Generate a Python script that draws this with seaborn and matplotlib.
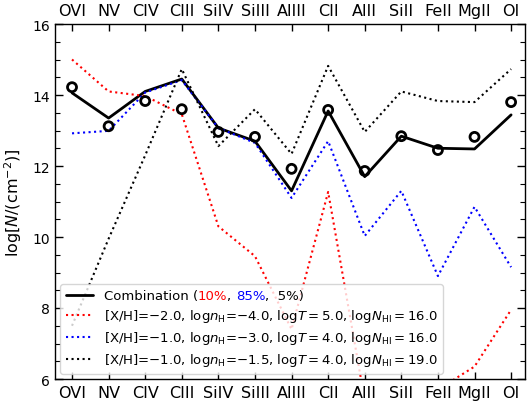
import numpy as np
import pandas as pd
import matplotlib
matplotlib.use("Agg")
import matplotlib.pyplot as plt
import seaborn as sns
from matplotlib.ticker import MultipleLocator
from matplotlib.lines import Line2D

ions = ['OVI', 'NV', 'CIV', 'CIII', 'SiIV', 'SiIII', 'AlIII', 'CII', 'AlII', 'SiII', 'FeII', 'MgII', 'OI']
observed = [14.22, 13.12, 13.83, 13.60, 12.96, 12.82, 11.92, 13.58, 11.86, 12.84, 12.45, 12.82, 13.80]
combination = [14.06, 13.35, 14.10, 14.45, 13.07, 12.70, 11.30, 13.55, 11.70, 12.84, 12.50, 12.48, 13.44]
model_red = [15.00, 14.10, 13.97, 13.46, 10.30, 9.46, 7.40, 11.27, 5.40, 5.90, 5.70, 6.35, 7.95]
model_blue = [12.92, 12.99, 14.07, 14.42, 13.07, 12.65, 11.10, 12.70, 10.03, 11.30, 8.90, 10.85, 9.15]
model_black = [7.50, 9.95, 12.30, 14.73, 12.56, 13.60, 12.34, 14.82, 12.96, 14.10, 13.83, 13.80, 14.73]

labels = [
    'Combination (',
    r'[X/H]=$-$2.0, log$n_{\rm H}$=$-$4.0, log$T=5.0$, log$N_{\rm HI}=16.0$',
    r'[X/H]=$-$1.0, log$n_{\rm H}$=$-$3.0, log$T=4.0$, log$N_{\rm HI}=16.0$',
    r'[X/H]=$-$1.0, log$n_{\rm H}$=$-$1.5, log$T=4.0$, log$N_{\rm HI}=19.0$',
]
pieces = [('10%', 'red'), (', ', 'black'), ('85%', 'blue'), (',  5%)', 'black')]

sns.set_theme(style='ticks')
plt.rcParams.update({
    'font.family': ['DejaVu Sans'],
    'axes.edgecolor': 'black',
    'axes.linewidth': 1.0,
    'xtick.color': 'black', 'ytick.color': 'black',
    'text.color': 'black', 'axes.labelcolor': 'black',
})

pos = np.arange(len(ions))
df = pd.DataFrame({'pos': pos, 'obs': observed, 'comb': combination,
                   'red': model_red, 'blue': model_blue, 'black': model_black})

fig = plt.figure(figsize=(5.27, 4.02), dpi=100)
ax = fig.add_axes([55/527, 1-380/402, (525-55)/527, (380-25)/402])

sns.lineplot(data=df, x='pos', y='comb', color='black', lw=2.0, sort=False, ax=ax)
sns.lineplot(data=df, x='pos', y='red', color='red', lw=1.5, ls=':', sort=False, ax=ax)
sns.lineplot(data=df, x='pos', y='blue', color='blue', lw=1.5, ls=':', sort=False, ax=ax)
sns.lineplot(data=df, x='pos', y='black', color='black', lw=1.5, ls=':', sort=False, ax=ax)
sns.scatterplot(data=df, x='pos', y='obs', color='black', s=42, linewidth=2.0, ax=ax, zorder=4)
ax.collections[-1].set_facecolor('none')
ax.collections[-1].set_edgecolor('black')

ax.set_xlim(-0.465, 12.38)
ax.set_ylim(6, 16)
ax.set_xticks(pos)
ax.set_xticklabels(ions, fontsize=11.5)
ax.yaxis.set_major_locator(MultipleLocator(2))
ax.yaxis.set_minor_locator(MultipleLocator(0.5))
ax.tick_params(axis='x', which='both', direction='in', top=True, bottom=True,
               labeltop=True, length=5, width=1, pad=4)
ax.tick_params(axis='y', which='major', direction='in', left=True, right=True,
               length=6, width=1, labelsize=10)
ax.tick_params(axis='y', which='minor', direction='in', left=True, right=True,
               length=3.5, width=0.8)
ax.set_xlabel('')
ax.set_ylabel(r'log$[N/({\rm cm}^{-2})]$', fontsize=11.5, labelpad=6)

handles = [Line2D([], [], color='black', lw=2.0),
           Line2D([], [], color='red', lw=1.5, ls=':'),
           Line2D([], [], color='blue', lw=1.5, ls=':'),
           Line2D([], [], color='black', lw=1.5, ls=':')]
leg = ax.legend(handles, labels, loc='lower left', fontsize=9.5, frameon=True,
                fancybox=True, framealpha=0.8, edgecolor='0.8',
                borderaxespad=0.4, labelspacing=0.38, handlelength=2.1)

prev = leg.get_texts()[0]
for s, c in pieces:
    prev = ax.annotate(s, xy=(1, 0), xycoords=prev, va='bottom', ha='left',
                       color=c, fontsize=9.5, zorder=10)

fig.canvas.draw()
fig.savefig('out.png', dpi=100)
